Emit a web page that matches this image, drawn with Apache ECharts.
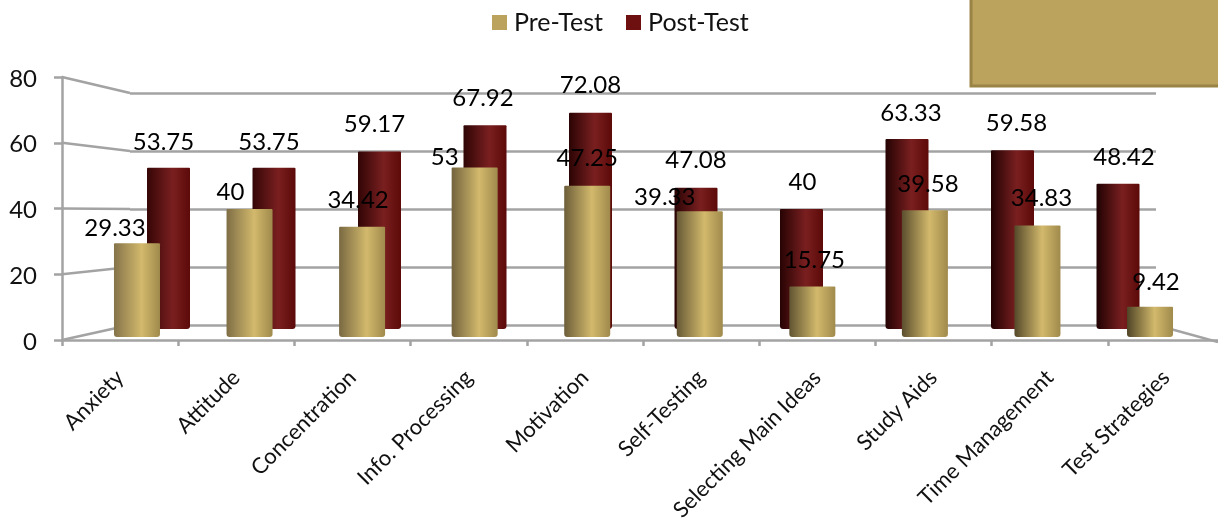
<!DOCTYPE html>
<html>
<head>
<meta charset="utf-8">
<script src="https://cdn.jsdelivr.net/npm/echarts@6/dist/echarts.min.js"></script>
<style>html,body{margin:0;padding:0;background:#fff}#c{width:1218px;height:520px}</style>
</head>
<body>
<div id="c"></div>
<script>
const categories = ['Anxiety','Attitude','Concentration','Info. Processing','Motivation','Self-Testing','Selecting Main Ideas','Study Aids','Time Management','Test Strategies'];
const preTest  = [29.33,40,34.42,53,47.25,39.33,15.75,39.58,34.83,9.42];
const postTest = [53.75,53.75,59.17,67.92,72.08,47.08,40,63.33,59.58,48.42];
const yTicks = [0,20,40,60,80];

// Label nudges so that the crowded data labels sit clear of their cylinders
const preLabelNudge  = [[-22,-3],[-19,-5],[-4,-15],[-30,2],[0,-16],[-35,-2],[2,-14],[3,-14],[4,-15],[6,-13]];
const postLabelNudge = [[-5,-13],[-5,-13],[-5,-15],[-2,-15],[0,-15],[0,-15],[1,-15],[4,-14],[4,-15],[6,-14]];

// Layout of the pseudo-3D box: front plane, back wall and the two cylinder rows
const fixedBounds = {outerBoundsMode:'none'};
const front = {left:62, top:77, width:1162, height:263, ...fixedBounds};
const back  = {left:130, top:93, width:1026, height:232, ...fixedBounds};
const preGrid  = {left:80.7, top:81, width:1125.6, height:256, ...fixedBounds};
const postGrid = {left:115.75, top:89, width:1055, height:240, ...fixedBounds};
const lineGrey = '#a3a3a3';
const FONT = 'Lato, "Open Sans", sans-serif';

function hex(a,b,t){
  const p=s=>[1,3,5].map(i=>parseInt(s.substr(i,2),16));
  const A=p(a),B=p(b);
  return 'rgb('+A.map((v,i)=>Math.round(v+(B[i]-v)*t)).join(',')+')';
}
// Cylinder shading: the left edge falls darker towards the right of the chart
function cylinder(edgeNear,edgeFar,mid,right,i){
  return {type:'linear',x:0,y:0,x2:1,y2:0,colorStops:[
    {offset:0,color:hex(edgeNear,edgeFar,i/9)},
    {offset:0.6,color:mid},
    {offset:1,color:right}
  ]};
}
function items(values,nudge,shade){
  return values.map((v,i)=>({
    value:v,
    itemStyle:{color:shade(i)},
    label:{offset:nudge[i]}
  }));
}
const labelStyle = {show:true,position:'top',distance:0,color:'#000',fontFamily:FONT,fontSize:24};

function renderWalls(params,api){
  const v = api.value(1);
  const yF = api.coord([0,v])[1];
  const yB = back.top + back.height*(1-v/80);
  const style = {stroke:lineGrey,lineWidth:2.5,fill:null};
  const kids = [{type:'line',shape:{x1:front.left,y1:yF,x2:back.left,y2:yB},style}];
  if(v===0){
    kids.push({type:'line',shape:{x1:back.left+back.width,y1:yB,x2:1218,y2:yF+2},style});
  }
  return {type:'group',children:kids};
}

const chart = echarts.init(document.getElementById('c'),null,{renderer:'canvas'});
chart.setOption({
  animation:false,
  backgroundColor:'#fff',
  textStyle:{fontFamily:FONT},
  legend:{
    left:487,top:5,itemWidth:15,itemHeight:15,itemGap:23,
    textStyle:{fontFamily:FONT,fontSize:25,color:'#111',padding:[0,0,0,2]},
    data:[
      {name:'Pre-Test',icon:'rect',itemStyle:{color:'#bba35e'}},
      {name:'Post-Test',icon:'rect',itemStyle:{color:'#6e1010'}}
    ]
  },
  grid:[front,back,preGrid,postGrid],
  xAxis:[
    {gridIndex:0,type:'category',data:categories,boundaryGap:true,
     axisLine:{lineStyle:{color:lineGrey,width:2.5}},
     axisTick:{show:true,length:6,alignWithLabel:false,lineStyle:{color:lineGrey,width:2.5}},
     axisLabel:{rotate:45,interval:0,margin:34,fontFamily:FONT,fontSize:22,color:'#111'}},
    {gridIndex:1,type:'category',data:categories,show:false},
    {gridIndex:2,type:'category',data:categories,show:false},
    {gridIndex:3,type:'category',data:categories,show:false}
  ],
  yAxis:[
    {gridIndex:0,type:'value',min:0,max:80,interval:20,
     axisLine:{show:true,lineStyle:{color:lineGrey,width:2.5}},
     axisTick:{show:true,length:8,lineStyle:{color:lineGrey,width:2.5}},
     axisLabel:{margin:25,fontFamily:FONT,fontSize:24,color:'#111',verticalAlign:'top',lineHeight:24,padding:[-10,0,0,0],
       formatter:v=>yTicks.includes(v)?String(v):''},
     splitLine:{show:false}},
    {gridIndex:1,type:'value',min:0,max:80,interval:20,
     axisLine:{show:false},axisTick:{show:false},axisLabel:{show:false},
     splitLine:{show:true,lineStyle:{color:lineGrey,width:2.5}}},
    {gridIndex:2,type:'value',min:0,max:80,show:false,splitLine:{show:false}},
    {gridIndex:3,type:'value',min:0,max:80,show:false,splitLine:{show:false}}
  ],
  series:[
    {type:'custom',xAxisIndex:0,yAxisIndex:0,z:1,silent:true,clip:false,
     data:yTicks.map(v=>[0,v]),renderItem:renderWalls},
    {name:'Post-Test',type:'bar',xAxisIndex:3,yAxisIndex:3,z:3,barWidth:43,
     itemStyle:{borderRadius:[1,1,3,3]},
     label:labelStyle,
     data:items(postTest,postLabelNudge,i=>cylinder('#360606','#200202','#7a1f20','#5c0a09',i))},
    {name:'Pre-Test',type:'bar',xAxisIndex:2,yAxisIndex:2,z:4,barWidth:46,
     itemStyle:{borderRadius:[1,1,3,3]},
     label:labelStyle,
     data:items(preTest,preLabelNudge,i=>cylinder('#85734a','#4f4426','#d2b96c','#a08a4c',i))}
  ],
  graphic:[
    {type:'rect',z:10,shape:{x:971,y:-4,width:250,height:90},
     style:{fill:'#bba35e',stroke:'#9a8445',lineWidth:3}}
  ]
});
</script>
</body>
</html>
